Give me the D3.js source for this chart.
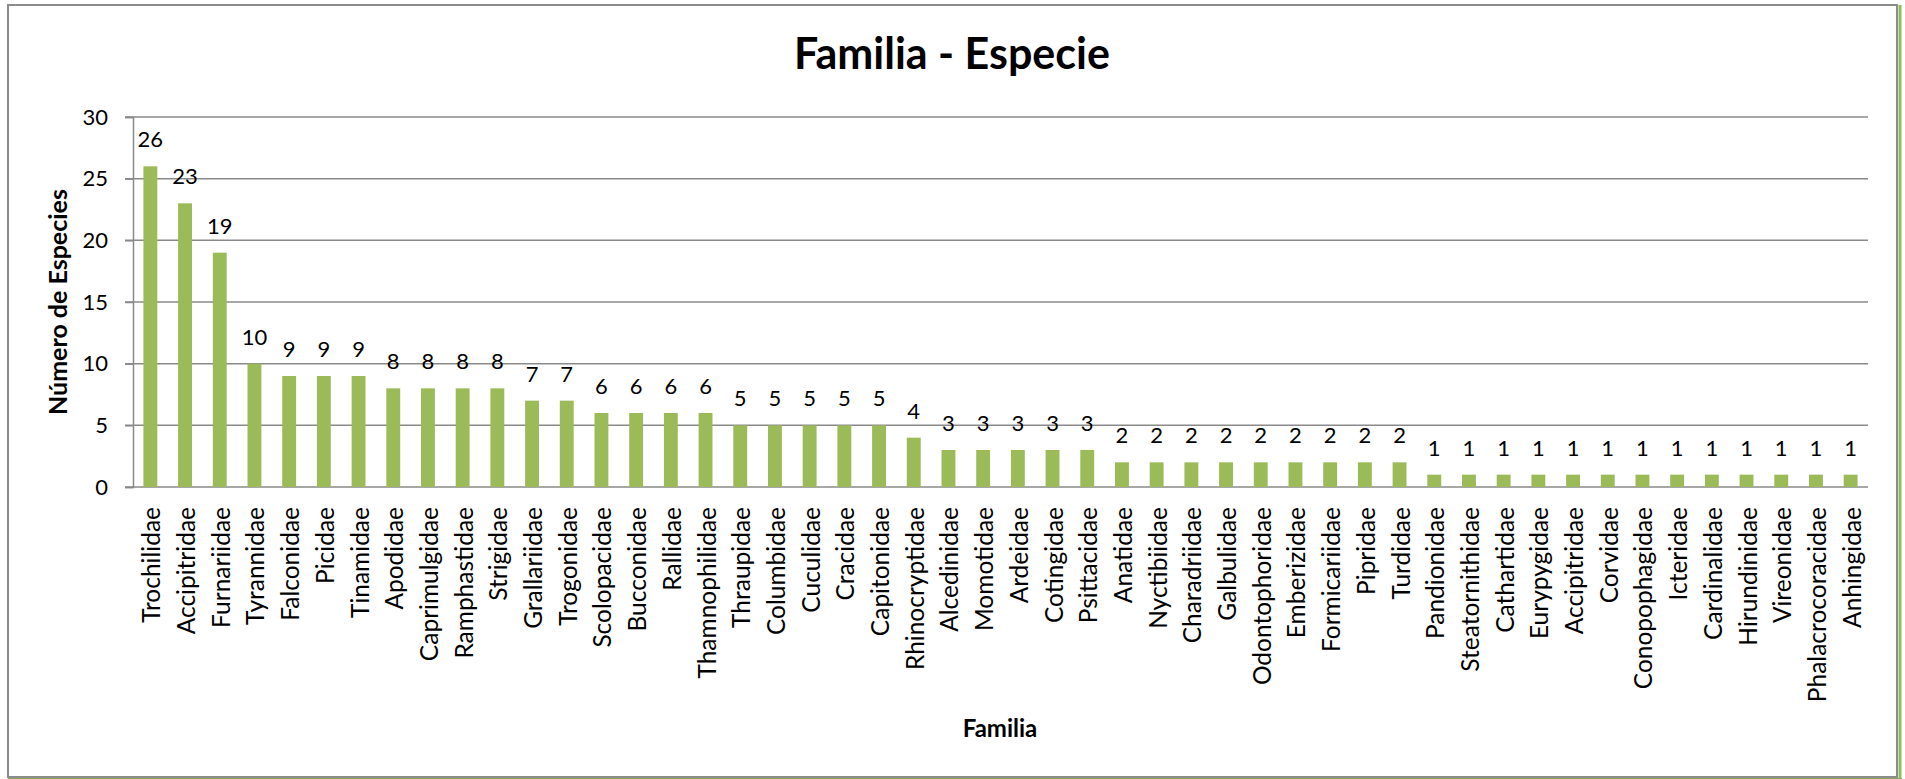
<!DOCTYPE html>
<html>
<head>
<meta charset="utf-8">
<script src="https://cdn.jsdelivr.net/npm/d3@7"></script>
<style>
  body { margin: 0; background: #fff; }
  svg text { font-family: Lato, "Open Sans", sans-serif; fill: #000; }
</style>
</head>
<body>
<svg id="chart" width="1905" height="779"></svg>
<script>
// familias y número de especies
const familias = [
  'Trochilidae', 'Accipitridae', 'Furnariidae', 'Tyrannidae', 'Falconidae',
  'Picidae', 'Tinamidae', 'Apodidae', 'Caprimulgidae', 'Ramphastidae',
  'Strigidae', 'Grallariidae', 'Trogonidae', 'Scolopacidae', 'Bucconidae',
  'Rallidae', 'Thamnophilidae', 'Thraupidae', 'Columbidae', 'Cuculidae',
  'Cracidae', 'Capitonidae', 'Rhinocryptidae', 'Alcedinidae', 'Momotidae',
  'Ardeidae', 'Cotingidae', 'Psittacidae', 'Anatidae', 'Nyctibiidae',
  'Charadriidae', 'Galbulidae', 'Odontophoridae', 'Emberizidae', 'Formicariidae',
  'Pipridae', 'Turdidae', 'Pandionidae', 'Steatornithidae', 'Cathartidae',
  'Eurypygidae', 'Accipitridae', 'Corvidae', 'Conopophagidae', 'Icteridae',
  'Cardinalidae', 'Hirundinidae', 'Vireonidae', 'Phalacrocoracidae', 'Anhingidae',
]
const especies = [
  26, 23, 19, 10, 9, 9, 9, 8, 8, 8,
  8, 7, 7, 6, 6, 6, 6, 5, 5, 5,
  5, 5, 4, 3, 3, 3, 3, 3, 2, 2,
  2, 2, 2, 2, 2, 2, 2, 1, 1, 1,
  1, 1, 1, 1, 1, 1, 1, 1, 1, 1,
]
const yTicks = [0, 5, 10, 15, 20, 25, 30]

const svg = d3.select('#chart')
const plot = { left: 133, right: 1868, top: 117, bottom: 487 }

// marco exterior
svg.append('rect')
  .attr('x', 8).attr('y', 5)
  .attr('width', 1889).attr('height', 772)
  .attr('fill', '#fff')
  .attr('stroke', '#8c8c8c')
  .attr('stroke-width', 2)
svg.append('line')
  .attr('x1', 1900).attr('x2', 1900).attr('y1', 5).attr('y2', 779)
  .attr('stroke', '#8cc152').attr('stroke-width', 3)
svg.append('line')
  .attr('x1', 8).attr('x2', 1902).attr('y1', 778.5).attr('y2', 778.5)
  .attr('stroke', '#8aa860').attr('stroke-width', 1)

const x = d3.scaleBand()
  .domain(d3.range(familias.length))
  .range([plot.left, plot.right])
  .paddingInner(0.6)
  .paddingOuter(0.3)

const y = d3.scaleLinear()
  .domain([0, 30])
  .range([plot.bottom, plot.top])

// rejilla
svg.append('g')
  .selectAll('line')
  .data(yTicks)
  .join('line')
  .attr('x1', plot.left - 8)
  .attr('x2', plot.right)
  .attr('y1', d => y(d))
  .attr('y2', d => y(d))
  .attr('stroke', '#8a8a8a')
  .attr('stroke-width', 1.5)

// eje y
const yAxis = svg.append('g')
  .attr('transform', `translate(${plot.left},0)`)
  .call(d3.axisLeft(y).tickValues(yTicks).tickSize(8).tickPadding(17))
yAxis.select('.domain').attr('stroke', '#8a8a8a').attr('stroke-width', 1.5)
yAxis.selectAll('.tick line').attr('stroke', '#8a8a8a').attr('stroke-width', 1.5)
yAxis.selectAll('.tick text')
  .attr('font-size', 22)
  .style('font-family', 'Lato, sans-serif')
  .attr('fill', '#000')

// barras
svg.append('g')
  .selectAll('rect')
  .data(especies)
  .join('rect')
  .attr('x', (d, i) => x(i))
  .attr('width', x.bandwidth())
  .attr('y', d => y(d))
  .attr('height', d => y(0) - y(d))
  .attr('fill', '#9bbb59')

// etiquetas de valor
svg.append('g')
  .selectAll('text')
  .data(especies)
  .join('text')
  .attr('x', (d, i) => x(i) + x.bandwidth() / 2)
  .attr('y', d => y(d) - 19)
  .attr('text-anchor', 'middle')
  .attr('font-size', 22)
  .text(d => d)

// etiquetas de categoría
svg.append('g')
  .selectAll('text')
  .data(familias)
  .join('text')
  .attr('transform', (d, i) =>
    `translate(${x(i) + x.bandwidth() / 2 + 10},${plot.bottom + 20}) rotate(-90)`)
  .attr('text-anchor', 'end')
  .attr('font-size', 24.5)
  .text(d => d)

// títulos
svg.append('text')
  .attr('x', 952).attr('y', 69)
  .attr('text-anchor', 'middle')
  .attr('font-size', 43)
  .attr('font-weight', 'bold')
  .text('Familia - Especie')

svg.append('text')
  .attr('x', 1000).attr('y', 737)
  .attr('text-anchor', 'middle')
  .attr('font-size', 24)
  .attr('font-weight', 'bold')
  .text('Familia')

svg.append('text')
  .attr('transform', `translate(67,302) rotate(-90)`)
  .attr('text-anchor', 'middle')
  .attr('font-size', 25)
  .attr('font-weight', 'bold')
  .text('Número de Especies')
</script>
</body>
</html>
